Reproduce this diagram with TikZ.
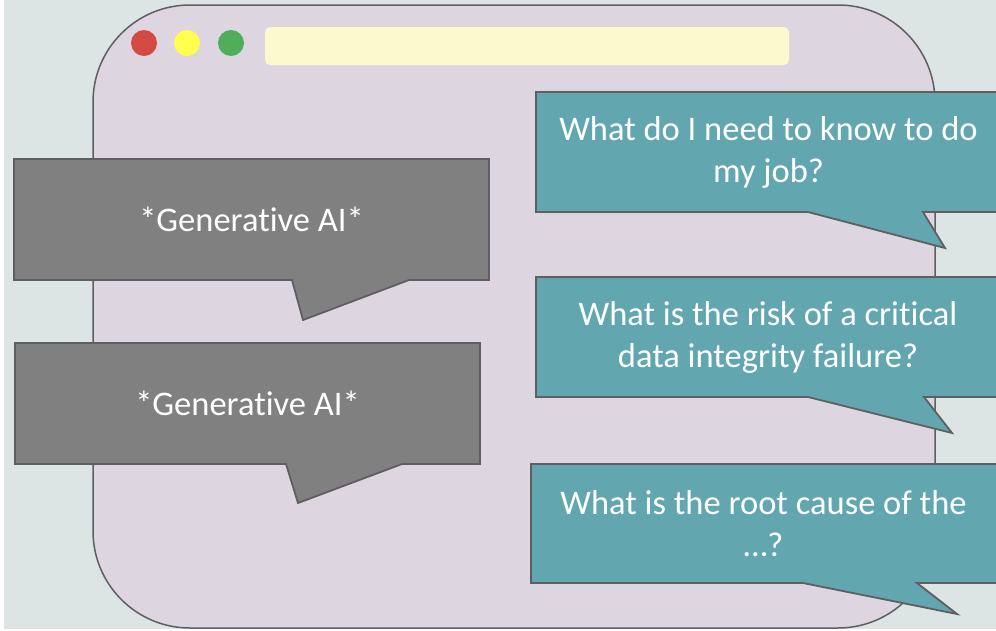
\documentclass[tikz,border=0pt]{standalone}
\usepackage{fontspec}
\setmainfont{Carlito}[RawFeature={-liga;-clig}]
\definecolor{bgc}{HTML}{DCE5E3}
\definecolor{winfill}{HTML}{DDD5E0}
\definecolor{edge}{HTML}{5F5F63}
\definecolor{addr}{HTML}{FDF9CF}
\definecolor{dotred}{HTML}{D24A43}
\definecolor{dotyellow}{HTML}{FFFF4D}
\definecolor{dotgreen}{HTML}{4FAD5B}
\definecolor{aigray}{HTML}{808080}
\definecolor{qteal}{HTML}{62A6AF}
\tikzset{
  window/.style={fill=winfill,draw=edge,line width=1.5pt,rounded corners=97pt},
  aibubble/.style={fill=aigray,draw=edge,line width=1.8pt,line join=miter},
  qbubble/.style={fill=qteal,draw=edge,line width=1.8pt,line join=miter},
  bubbletext/.style={text=white,align=center,inner sep=0pt,font=\fontsize{34.5}{42}\selectfont},
}
\begin{document}
\begin{tikzpicture}[x=1pt,y=-1pt]
\useasboundingbox (0,0) rectangle (996,630);
\fill[white] (0,0) rectangle (996,630);
\fill[bgc] (4,0) rectangle (996,629);
% browser window
\draw[window] (93,5) rectangle (935,628);
\fill[dotred] (144,43) circle (13pt);
\fill[dotyellow] (187,43) circle (13pt);
\fill[dotgreen] (231,43) circle (13pt);
\fill[addr,rounded corners=5pt] (265,27) rectangle (789,65);
% AI bubbles
\draw[aibubble] (14,159) -- (489,159) -- (489,280) -- (409,280) -- (303,320) -- (292,280) -- (14,280) -- cycle;
\node[bubbletext] (ai1) at (251.5,219.5) {*Generative AI*};
\draw[aibubble] (15,343) -- (480,343) -- (480,464) -- (402,464) -- (298,503) -- (286,464) -- (15,464) -- cycle;
\node[bubbletext] (ai2) at (247.5,403.5) {*Generative AI*};
% question bubbles
\draw[qbubble] (536,92) -- (1002,92) -- (1002,212) -- (923,212) -- (945,248) -- (808,212) -- (536,212) -- cycle;
\node[bubbletext] (q1) at (768.5,152) {What do I need to know to do\\my job?};
\draw[qbubble] (536,277) -- (1002,277) -- (1002,397) -- (924,397) -- (952,433) -- (808,397) -- (536,397) -- cycle;
\node[bubbletext] (q2) at (768,337) {What is the risk of a critical\\data integrity failure?};
\draw[qbubble] (531,464) -- (1002,464) -- (1002,583) -- (917,583) -- (957,614) -- (803,583) -- (531,583) -- cycle;
\node[bubbletext] (q3) at (763.5,523.5) {What is the root cause of the\\…?};
\end{tikzpicture}
\end{document}
